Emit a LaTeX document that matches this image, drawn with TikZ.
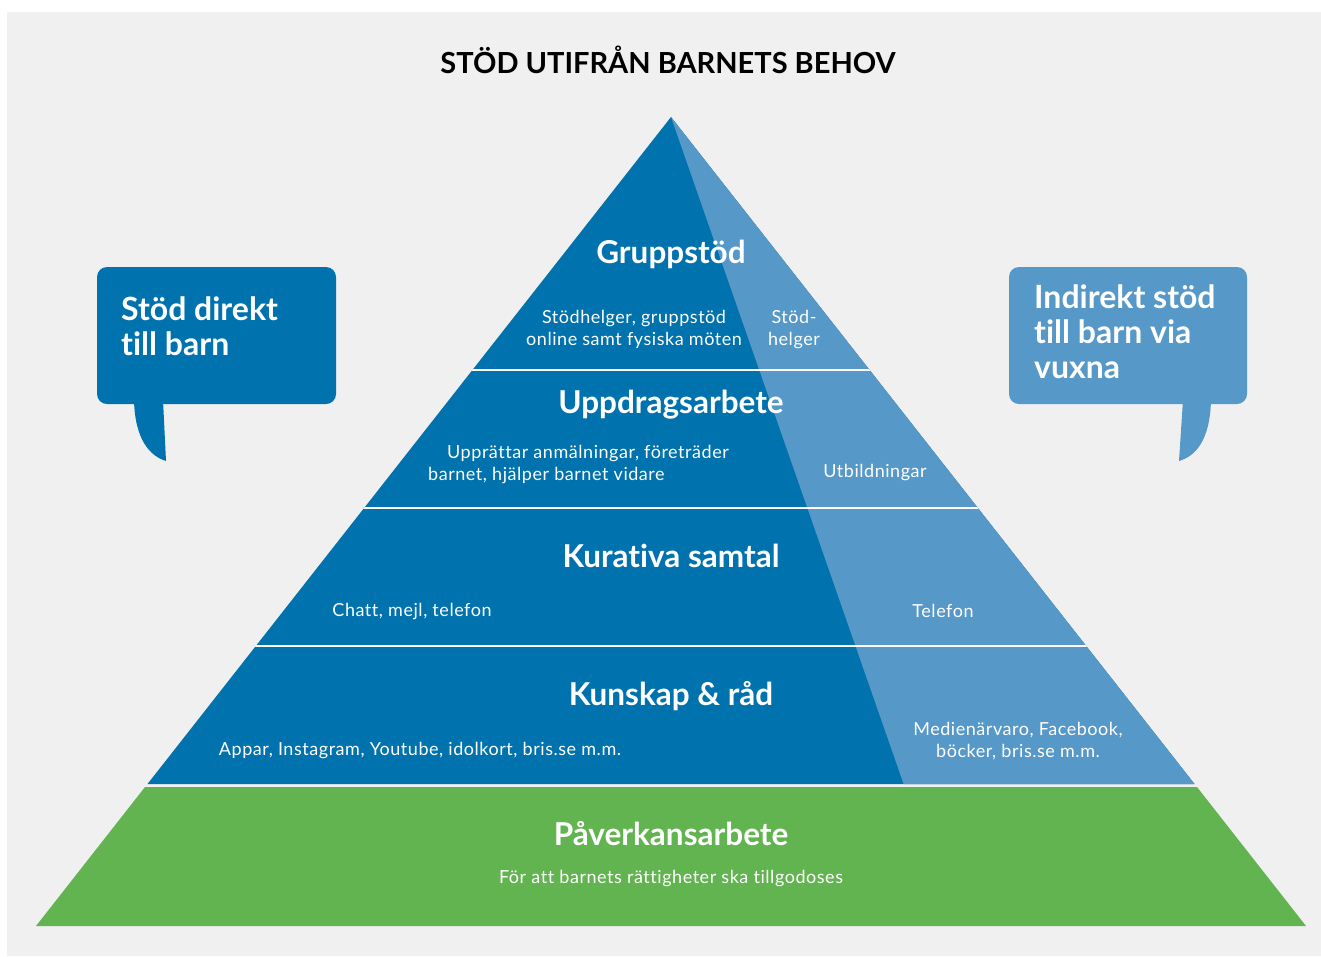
\documentclass[tikz,border=0pt]{standalone}
\usepackage{fontspec}
\setmainfont{Lato}[Ligatures=NoCommon]
\newfontfamily\subfont[LetterSpace=3,Ligatures=NoCommon]{Lato}
\definecolor{darkblue}{RGB}{0,114,173}
\definecolor{lightblue}{RGB}{86,152,200}
\definecolor{grassgreen}{RGB}{98,180,81}
\definecolor{bggray}{RGB}{240,240,240}
\tikzset{
	headline/.style={font=\fontsize{29}{34}\selectfont\bfseries, text=black, inner sep=0pt, anchor=base},
	layertitle/.style={font=\fontsize{31.5}{36}\selectfont\bfseries, text=white, inner sep=0pt, anchor=base},
	layertext/.style={font=\subfont\fontsize{18}{22}\selectfont, text=white, inner sep=0pt, anchor=base, align=center},
	bubbletext/.style={font=\fontsize{32}{35}\selectfont\bfseries, text=white, inner sep=0pt, anchor=base west, align=left},
	separator/.style={white, line width=1.8pt}
}
\begin{document}
\begin{tikzpicture}[x=1pt,y={(0pt,-1pt)}]
		%frame
		\useasboundingbox (0,0) rectangle (1321,956);
		\fill[white] (0,0) rectangle (1321,956);
		\fill[bggray] (7,12) rectangle (1321,956);
		%title
		\node[headline] (title) at (668,73) {STÖD UTIFRÅN BARNETS BEHOV};
		%pyramid corners
		\coordinate (apex) at (671,117);
		\coordinate (bl) at (147.5,784);
		\coordinate (br) at (1194.5,784);
		\coordinate (split) at (903.6,784);
		%blue part
		\fill[darkblue] (apex) -- (bl) -- (br) -- cycle;
		\fill[lightblue] (apex) -- (split) -- (br) -- cycle;
		%layer lines
		\begin{scope}
			\clip (apex) -- (bl) -- (br) -- cycle;
			\foreach \y in {370,508,646}
				\draw[separator] (0,\y) -- (1321,\y);
		\end{scope}
		%green base
		\fill[grassgreen] (145,787) -- (1197,787) -- (1306,926) -- (36,926) -- cycle;
		%layer titles
		\node[layertitle] (grupp) at (671,263) {Gruppstöd};
		\node[layertitle] (uppdrag) at (671,413) {Uppdragsarbete};
		\node[layertitle] (kurativ) at (671,567) {Kurativa samtal};
		\node[layertitle] (kunskap) at (671,705) {Kunskap \& råd};
		\node[layertitle] (paverkan) at (671,845) {Påverkansarbete};
		%layer texts (base = last line)
		\node[layertext] (gruppdir) at (634,345) {Stödhelger, gruppstöd\\online samt fysiska möten};
		\node[layertext] (gruppind) at (794,345) {Stöd-\\helger};
		\node[layertext, align=left, anchor=base west] (uppdir) at (428,480) {\hspace*{19pt}Upprättar anmälningar, företräder\\barnet, hjälper barnet vidare};
		\node[layertext] (uppind) at (875,477) {Utbildningar};
		\node[layertext] (kurdir) at (412,616) {Chatt, mejl, telefon};
		\node[layertext] (kurind) at (943,617) {Telefon};
		\node[layertext] (kundir) at (420,755) {Appar, Instagram, Youtube, idolkort, bris.se m.m.};
		\node[layertext] (kunind) at (1018,757) {Medienärvaro, Facebook,\\böcker, bris.se m.m.};
		\node[layertext] (pavtext) at (671,883) {För att barnets rättigheter ska tillgodoses};
		%left bubble
		\fill[darkblue, rounded corners=10pt] (97,267) rectangle (336,404);
		\fill[darkblue] (134,400) .. controls (135,440) and (150,456) .. (166,461) -- (163,400) -- cycle;
		\node[bubbletext] (direkt) at (121,355) {Stöd direkt\\till barn};
		%right bubble
		\fill[lightblue, rounded corners=10pt] (1009,267) rectangle (1247,404);
		\fill[lightblue] (1211,400) .. controls (1210,440) and (1196,456) .. (1179,461) -- (1183,400) -- cycle;
		\node[bubbletext] (indirekt) at (1034,378) {Indirekt stöd\\till barn via\\vuxna};
	\end{tikzpicture}
\end{document}
